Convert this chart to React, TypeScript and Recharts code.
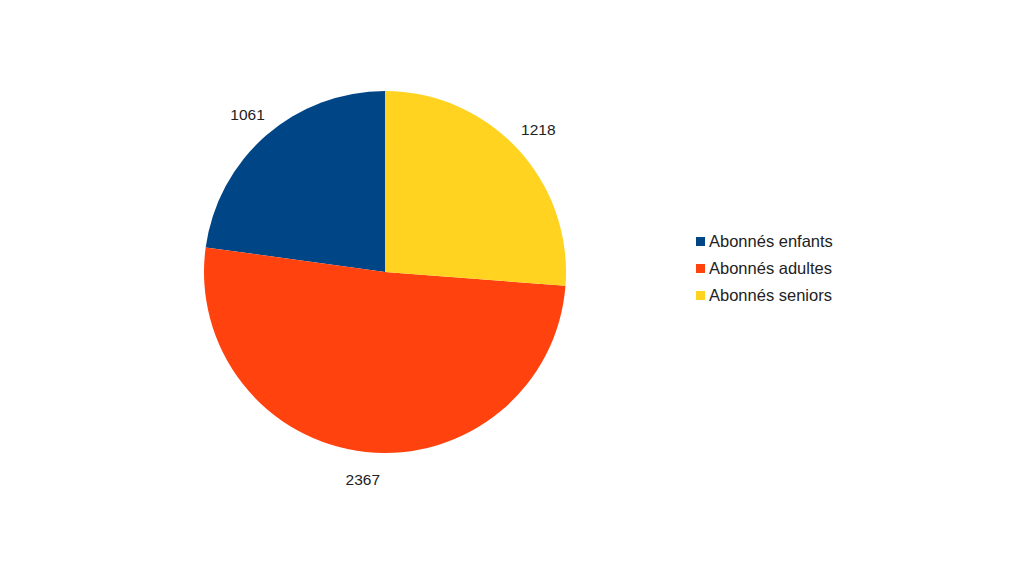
import { PieChart, Pie, Cell, Legend } from "recharts";

const categories = ["Abonnés enfants", "Abonnés adultes", "Abonnés seniors"];
const values = [1061, 2367, 1218];
const colors = ["#004586", "#ff420e", "#ffd320"];

const data = categories.map((name, i) => ({ name, value: values[i] }));

const RADIAN = Math.PI / 180;

function renderLabel(props: any) {
  const { cx, cy, midAngle, outerRadius, value } = props;
  const r = outerRadius + 28;
  const x = cx + r * Math.cos(-midAngle * RADIAN);
  const y = cy + r * Math.sin(-midAngle * RADIAN);
  return (
    <text
      x={x}
      y={y}
      fill="#222"
      fontSize={15.5}
      textAnchor="middle"
      dominantBaseline="central"
    >
      {value}
    </text>
  );
}

function LegendContent() {
  return (
    <div>
      {categories.map((c, i) => (
        <div
          key={c}
          style={{ display: "flex", alignItems: "center", height: 27 }}
        >
          <span
            style={{
              width: 9,
              height: 9,
              background: colors[i],
              marginRight: 4,
              display: "inline-block",
            }}
          />
          <span style={{ fontSize: 16.5, color: "#222" }}>{c}</span>
        </div>
      ))}
    </div>
  );
}

export default function App() {
  return (
    <div
      style={{
        position: "absolute",
        left: 0,
        top: 0,
        background: "#fff",
        fontFamily: "'Liberation Sans', Arial, sans-serif",
      }}
    >
      <PieChart
        width={1024}
        height={576}
        margin={{ top: 0, right: 0, bottom: 0, left: 0 }}
      >
        <Pie
          data={data}
          dataKey="value"
          nameKey="name"
          cx={385}
          cy={272}
          outerRadius={181}
          startAngle={90}
          endAngle={450}
          stroke="none"
          label={renderLabel}
          labelLine={false}
          isAnimationActive={false}
        >
          {data.map((d, i) => (
            <Cell key={d.name} fill={colors[i]} />
          ))}
        </Pie>
        <Legend
          layout="vertical"
          content={<LegendContent />}
          wrapperStyle={{ left: 696, top: 228, width: 220 }}
        />
      </PieChart>
    </div>
  );
}
